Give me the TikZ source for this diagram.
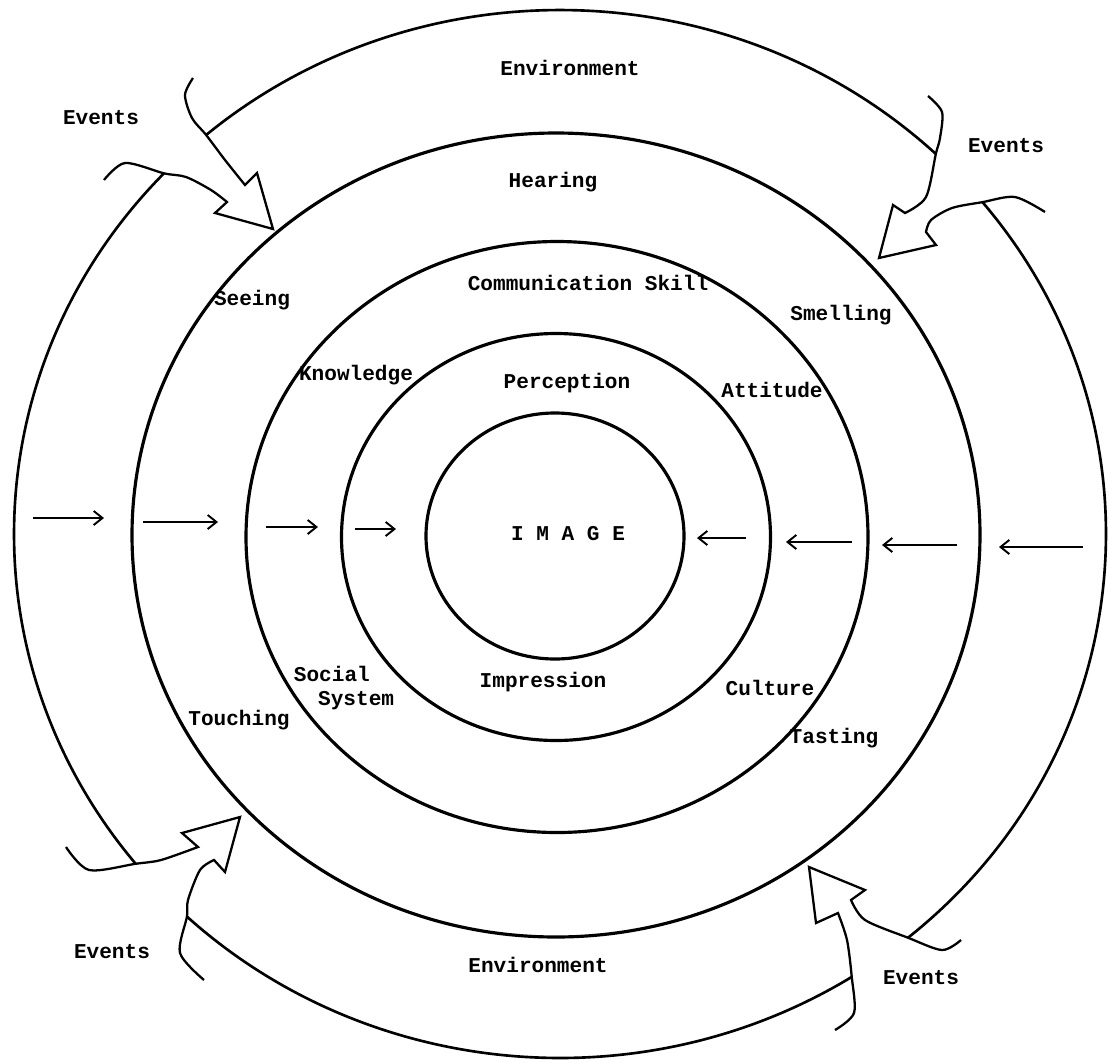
\documentclass[tikz,border=0pt]{standalone}
\usepackage{fontspec}
\setmonofont{Liberation Mono}
\usepackage{tikz}
\usetikzlibrary{arrows.meta, calc}

\begin{document}
\begin{tikzpicture}[
    x=0.02cm, y=0.02cm,
    ring/.style={line width=1.8pt},
    band/.style={line width=1.5pt},
    flow/.style={line width=1.3pt, line join=miter},
    push/.style={line width=1.1pt, -{Straight Barb[length=5pt,width=8pt]}},
    tag/.style={font=\ttfamily\bfseries\fontsize{12}{14}\selectfont, inner sep=0pt}
]
\useasboundingbox (0,0) rectangle (1109,-1062);

% Rings round the image
\draw[ring] (555,-536) ellipse [x radius=129, y radius=123];
\draw[ring] (556,-537) ellipse [x radius=214.5, y radius=203.5];
\draw[ring] (557,-537) ellipse [x radius=311, y radius=295.5];
\draw[ring] (556,-535) ellipse [x radius=424, y radius=402];

% Environment bands
\begin{scope}[shift={(560,-534)}]
\draw[band] (130.4:546 and 524) coordinate (topW)
    arc[start angle=130.4, end angle=46.5, x radius=546, y radius=524] coordinate (topE);
\draw[band] (136.5:546 and 524) coordinate (leftN)
    arc[start angle=136.5, end angle=219, x radius=546, y radius=524] coordinate (leftS);
\draw[band] (226.9:546 and 524) coordinate (botW)
    arc[start angle=226.9, end angle=302.3, x radius=546, y radius=524] coordinate (botE);
\draw[band] (-50.4:546 and 524) coordinate (rightS)
    arc[start angle=-50.4, end angle=39.3, x radius=546, y radius=524] coordinate (rightN);
\end{scope}

% Events arrows
\draw[flow] plot[smooth] coordinates {(193,-78) (185,-95) (192,-118) (topW) (225,-160) (245,-185)}
    -- (257,-173) -- (273,-229) -- (215,-213)
    -- plot[smooth] coordinates {(227,-202) (211,-190) (186,-177) (leftN) (125,-163) (104,-180)};
\draw[flow] plot[smooth] coordinates {(928,-96) (942,-112) (940,-138) (topE) (926,-197) (905,-213)}
    -- (893,-205) -- (879,-258) -- (936,-245)
    -- plot[smooth] coordinates {(926,-232) (931,-220) (952,-208) (rightN) (1015,-197) (1045,-212)};
\draw[flow] plot[smooth] coordinates {(66,-847) (89,-870) (leftS) (161,-860) (198,-847)}
    -- (182,-833) -- (240,-817) -- (225,-872)
    -- plot[smooth] coordinates {(214,-860) (200,-870) (188,-900) (botW) (180,-953) (204,-980)};
\draw[flow] plot[smooth] coordinates {(835,-1030) (854,-1013) (botE) (847,-940) (838,-913)}
    -- (816,-923) -- (809,-867) -- (865,-890)
    -- plot[smooth] coordinates {(851,-900) (865,-920) (rightS) (942,-950) (961,-940)};

% Inward arrows
\draw[push] (33,-518) -- (104,-518);
\draw[push] (143,-522) -- (218,-522);
\draw[push] (266,-527) -- (318,-527);
\draw[push] (355,-529) -- (396,-529);
\draw[push] (746,-538) -- (697,-538);
\draw[push] (852,-542) -- (786,-542);
\draw[push] (957,-545) -- (882,-545);
\draw[push] (1083,-547) -- (999,-547);

% Labels
\node[tag] (envTop) at (570,-68) {Environment};
\node[tag] (evTL) at (101,-118) {Events};
\node[tag] (evTR) at (1006,-146) {Events};
\node[tag] (hear) at (553,-182) {Hearing};
\node[tag] (see) at (252,-300) {Seeing};
\node[tag] (comm) at (588,-283) {Communication Skill};
\node[tag] (smell) at (841,-315) {Smelling};
\node[tag] (know) at (356,-375) {Knowledge};
\node[tag] (perc) at (567,-383) {Perception};
\node[tag] (att) at (772,-390) {Attitude};
\node[tag] (img) at (568,-534) {I M A G E};
\node[tag, align=left] (soc) at (344,-688) {Social\\\hspace*{1.15em}System};
\node[tag] (impr) at (543,-682) {Impression};
\node[tag] (cult) at (770,-688) {Culture};
\node[tag] (touch) at (239,-720) {Touching};
\node[tag] (taste) at (834,-738) {Tasting};
\node[tag] (evBL) at (112,-952) {Events};
\node[tag] (envBot) at (538,-965) {Environment};
\node[tag] (evBR) at (921,-978) {Events};

\end{tikzpicture}
\end{document}
